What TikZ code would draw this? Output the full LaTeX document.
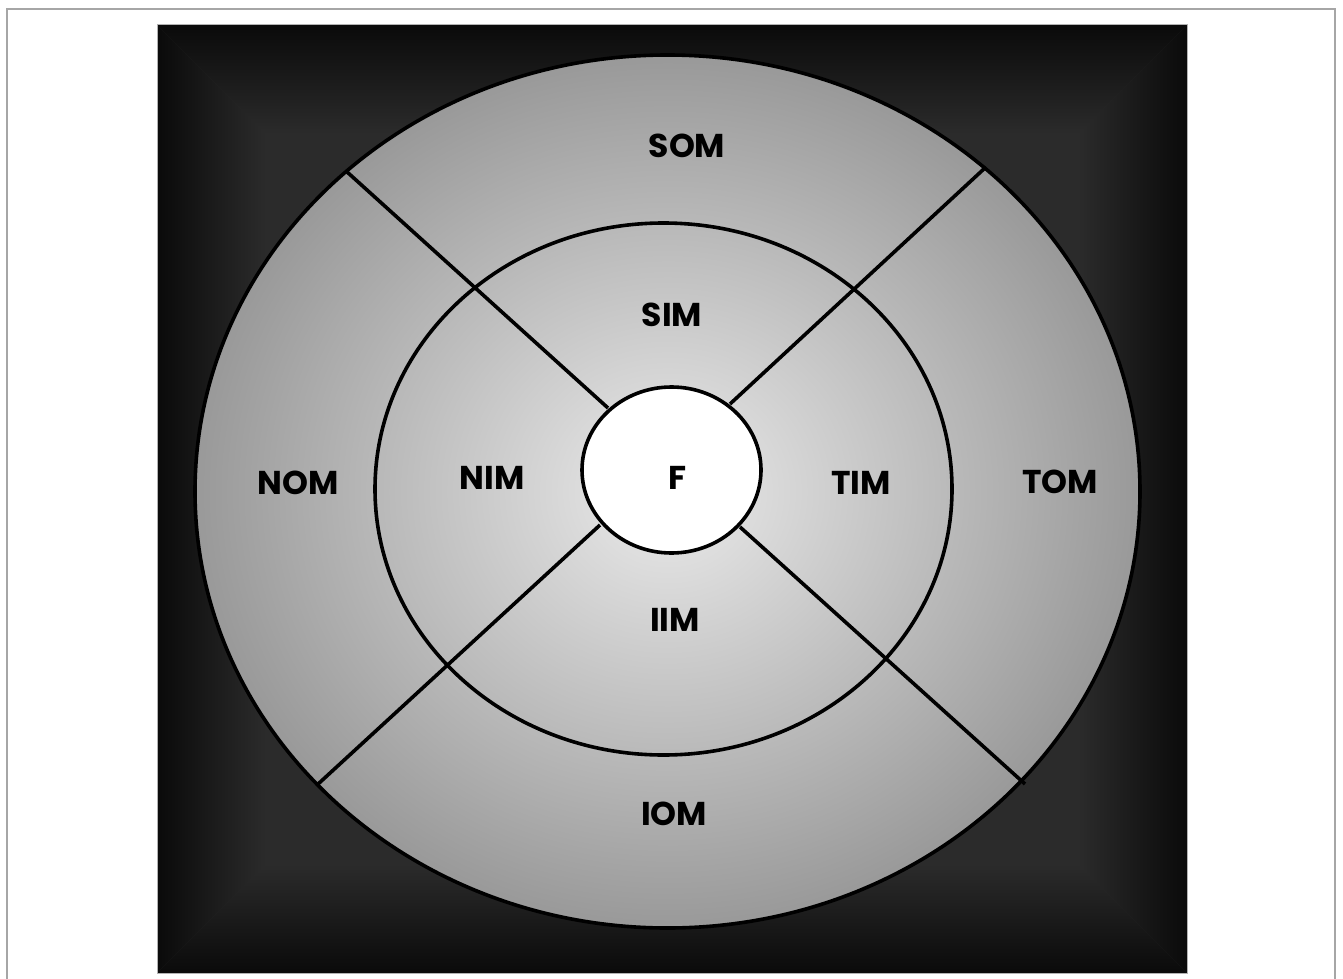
\documentclass[tikz,border=0pt]{standalone}
\usepackage{fontspec}
\setmainfont{Poppins}
\begin{document}
\begin{tikzpicture}[x=1pt,y=-1pt,
  lbl/.style={font=\fontsize{33}{33}\selectfont\bfseries, text=black, inner sep=0pt},
  seg/.style={line width=3.6pt, black}]
\useasboundingbox (0,0) rectangle (1343,979);
\fill[white] (0,0) rectangle (1343,979);
\draw[gray!70, line width=1.5pt] (7,9) rectangle (1335,995);
% dark square with inner glow
\fill[black!83] (157,25) rectangle (1187,973);
\shade[left color=black!96, right color=black!83] (157,25) -- (267,135) -- (267,863) -- (157,973) -- cycle;
\shade[left color=black!83, right color=black!96] (1187,25) -- (1077,135) -- (1077,863) -- (1187,973) -- cycle;
\shade[top color=black!96, bottom color=black!83] (157,25) -- (1187,25) -- (1077,135) -- (267,135) -- cycle;
\shade[top color=black!83, bottom color=black!96] (157,973) -- (1187,973) -- (1077,863) -- (267,863) -- cycle;
\draw[gray!60, line width=1pt] (157,25) rectangle (1187,973);
% centres
\coordinate (oc) at (667.5,491.5);
\coordinate (mc) at (663.5,489);
\coordinate (fc) at (671.5,470);
% outer ellipse
\shade[inner color=black!8, outer color=black!40] (oc) ellipse [x radius=472.5pt, y radius=436.5pt];
\draw[seg] (oc) ellipse [x radius=472.5pt, y radius=436.5pt];
% middle ellipse
\draw[seg] (mc) ellipse [x radius=288.5pt, y radius=266pt];
% dividing lines
\coordinate (tlo) at (346,171);  \coordinate (tli) at (608,408);
\coordinate (tro) at (986,167);  \coordinate (tri) at (730,404);
\coordinate (blo) at (317,785);  \coordinate (bli) at (600,525);
\coordinate (bro) at (1025,784); \coordinate (bri) at (740,527);
\draw[seg] (tlo) -- (tli);
\draw[seg] (tro) -- (tri);
\draw[seg] (blo) -- (bli);
\draw[seg] (bro) -- (bri);
% fovea
\filldraw[seg, fill=white] (fc) ellipse [x radius=89.5pt, y radius=83pt];
% labels
\node[lbl] (som) at (687,146) {SOM};
\node[lbl] (sim) at (672,315) {SIM};
\node[lbl] (nom) at (298,483) {NOM};
\node[lbl] (nim) at (492,478) {NIM};
\node[lbl] (f)   at (678,478) {F};
\node[lbl] (tim) at (861,483) {TIM};
\node[lbl] (tom) at (1060,482) {TOM};
\node[lbl] (iim) at (675,620) {IIM};
\node[lbl] (iom) at (674,814) {IOM};
\end{tikzpicture}
\end{document}
